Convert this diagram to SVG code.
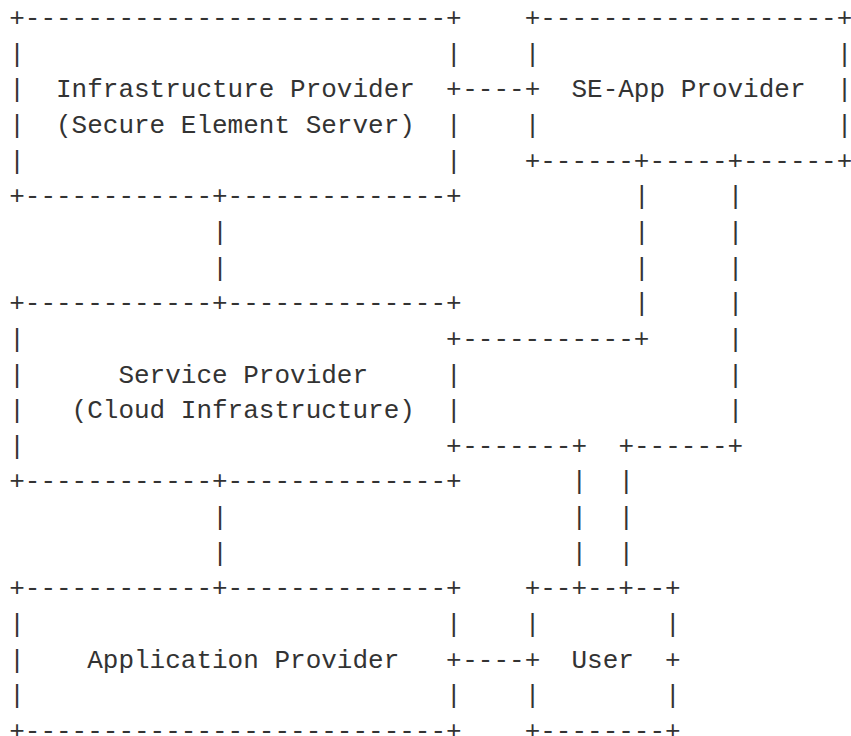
<svg xmlns="http://www.w3.org/2000/svg" width="851" height="736" viewBox="0 0 851 736" xml:space="preserve">
<style>
text{font-family:"Liberation Mono","DejaVu Sans Mono",monospace;font-size:26px;fill:#333;white-space:pre}
</style>
<rect width="851" height="736" fill="#fff"/>
<g id="infrastructure-provider">
<text x="9.2" y="26">+---------------------------+</text>
<text x="9.2" y="61.65">|                           |</text>
<text x="9.2" y="97.3">|  Infrastructure Provider  +</text>
<text x="9.2" y="132.95">|  (Secure Element Server)  |</text>
<text x="9.2" y="168.6">|                           |</text>
<text x="9.2" y="204.25">+------------+--------------+</text>
</g>
<g id="se-app-provider">
<text x="524.66" y="26">+-------------------+</text>
<text x="524.66" y="61.65">|                   |</text>
<text x="524.66" y="97.3">+  SE-App Provider  |</text>
<text x="524.66" y="132.95">|                   |</text>
<text x="524.66" y="168.6">+------+-----+------+</text>
</g>
<g id="service-provider">
<text x="9.2" y="311.2">+------------+--------------+</text>
<text x="9.2" y="346.85">|                           +</text>
<text x="9.2" y="382.5">|      Service Provider     |</text>
<text x="9.2" y="418.15">|   (Cloud Infrastructure)  |</text>
<text x="9.2" y="453.8">|                           +</text>
<text x="9.2" y="489.45">+------------+--------------+</text>
</g>
<g id="application-provider">
<text x="9.2" y="596.4">+------------+--------------+</text>
<text x="9.2" y="632.05">|                           |</text>
<text x="9.2" y="667.7">|    Application Provider   +</text>
<text x="9.2" y="703.35">|                           |</text>
<text x="9.2" y="739">+---------------------------+</text>
</g>
<g id="user">
<text x="524.66" y="596.4">+--+--+--+</text>
<text x="524.66" y="632.05">|        |</text>
<text x="524.66" y="667.7">+  User  +</text>
<text x="524.66" y="703.35">|        |</text>
<text x="524.66" y="739">+--------+</text>
</g>
<g id="connectors">
<text x="462.18" y="97.3">----</text>
<text x="462.18" y="667.7">----</text>
<text x="212.26" y="239.9">|</text>
<text x="212.26" y="275.55">|</text>
<text x="212.26" y="525.1">|</text>
<text x="212.26" y="560.75">|</text>
<text x="634" y="204.25">|</text>
<text x="634" y="239.9">|</text>
<text x="634" y="275.55">|</text>
<text x="634" y="311.2">|</text>
<text x="462.18" y="346.85">-----------+</text>
<text x="727.72" y="204.25">|</text>
<text x="727.72" y="239.9">|</text>
<text x="727.72" y="275.55">|</text>
<text x="727.72" y="311.2">|</text>
<text x="727.72" y="346.85">|</text>
<text x="727.72" y="382.5">|</text>
<text x="727.72" y="418.15">|</text>
<text x="618.38" y="453.8">+------+</text>
<text x="462.18" y="453.8">-------+</text>
<text x="571.52" y="489.45">|</text>
<text x="571.52" y="525.1">|</text>
<text x="571.52" y="560.75">|</text>
<text x="618.38" y="489.45">|</text>
<text x="618.38" y="525.1">|</text>
<text x="618.38" y="560.75">|</text>
</g>
</svg>
